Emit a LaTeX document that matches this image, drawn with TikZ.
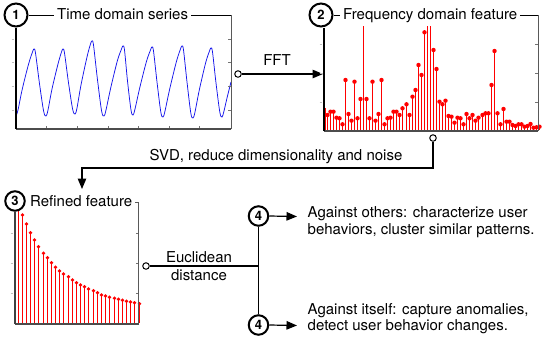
\documentclass[tikz,border=0pt]{standalone}
\usepackage{fontspec}
\setmainfont{TeX Gyre Heros}
\usetikzlibrary{arrows.meta}
\definecolor{stemredc}{RGB}{255,0,0}
\definecolor{dotredc}{RGB}{255,0,0}
\definecolor{curveblue}{RGB}{20,20,235}
\begin{document}
\begin{tikzpicture}[x=1pt,y=-1pt,
  every node/.style={font=\fontsize{15}{17}\selectfont, inner sep=0pt},
  numcirc/.style={circle, draw=black, line width=2pt, fill=white, minimum size=#1, inner sep=0pt, font=\fontsize{13}{13}\selectfont\bfseries},
  marker/.style={circle, draw=black, line width=1pt, fill=white, minimum size=6.5pt, inner sep=0pt},
  titlelbl/.style={fill=white, inner xsep=3pt, inner ysep=1pt, anchor=base west},
  titleline/.style={draw=black, line width=1pt},
  axisleft/.style={draw=black, line width=1.6pt},
  axisgrayleft/.style={draw=black!75, line width=1.6pt},
  axisbottom/.style={draw=black!70, line width=1.4pt},
  axisright/.style={draw=black!65, line width=1pt},
  tickmark/.style={draw=black!55, line width=0.8pt},
  fainttick/.style={draw=black!25, line width=0.8pt},
  conn/.style={draw=black, line width=1.2pt},
  arrowed/.style={-{Triangle[length=10.5pt,width=8.5pt]}},
  bluecurve/.style={draw=curveblue, line width=0.75pt},
  stemred/.style={draw=stemredc, line width=1pt}
]
\useasboundingbox (0,0) rectangle (545,338);

% ---------------- Panel 1 ----------------
\node[numcirc=23pt] (c1) at (16,15) {1};
\coordinate (p1tr) at (231,15);
\coordinate (p1br) at (231,129);
\coordinate (p1bl) at (16,129);
\begin{scope}
  \clip (16,10) rectangle (231,129);
  \draw[bluecurve] plot[smooth,tension=0.55] coordinates {
    (16,116) (18,110) (22.3,89) (28.6,64) (32.5,52) (34,49)
    (35.5,53) (39.4,83) (43.6,111) (46,116)
    (48,110) (52,89) (58,64) (61.5,52) (63,49)
    (64.5,53) (68.4,82) (72.6,109) (75,114)
    (77,108) (81,85) (87,57) (90.5,44) (92,41)
    (93.5,45) (97.4,79) (101.6,111) (104,116)
    (106,110) (110.7,88) (117.3,61) (121.5,49) (123,46)
    (124.5,50) (127.5,81) (131,110) (133,115)
    (135,109) (139.7,88) (146.3,62) (150.5,50) (152,47)
    (153.5,51) (157,82) (160.8,112) (163,117)
    (165,111) (169.7,89) (176.3,62) (180.5,49) (182,46)
    (183.5,50) (187,82) (190.8,113) (193,118)
    (195,112) (199.3,90) (205.6,63) (209.5,51) (211,48)
    (212.5,52) (216,83) (219.8,112) (222,117)
    (224,111) (227,98) (231,82)};
\end{scope}
\foreach \ty in {39,62,86,110}{
  \draw[tickmark] (231,\ty) -- (228,\ty);
  \draw[fainttick] (11.5,\ty) -- (13.5,\ty);
}
\foreach \tx in {46,77,108,138,169,199}{
  \draw[tickmark] (\tx,129) -- (\tx,125.5);
}
\draw[axisright] (p1tr) -- (p1br);
\draw[axisbottom] (p1bl) -- (p1br);
\draw[titleline] (c1.east) -- (p1tr);
\draw[axisleft] (c1.south) -- (p1bl);
\node[titlelbl] (t1) at (54,19) {Time domain series};

% ---------------- FFT connector ----------------
\node[marker] (m1) at (238,74) {};
\coordinate (a2) at (323,74);
\draw[conn,arrowed] (m1) -- (a2);
\node[anchor=base] (fft) at (277,65) {FFT};

% ---------------- Panel 2 ----------------
\def\fftlist{115,111.7,111.7,117.7,118.3,124.3,80,114,120.7,81.7,
118.3,99,26,99,118.3,81.7,120.7,114,80,124.3,
118.3,117.7,111.7,111.7,115,108.3,104.3,115,96.7,90,
65,75,32.3,26,26,50,69,101.7,104.3,100.7,
116,116.7,122.7,117.7,118.3,124.3,114,118.3,115,120.7,
117.7,115,113.3,113.3,85,51,113.3,124.3,109,121.7,
121.7,125,126,124.3,124.3,126.7,126,124,127.7,127.3,126.7}
\draw[stemred] (325.5,130) -- (325.5,108);
\foreach \yy [count=\i from 0] in \fftlist {
  \pgfmathsetmacro\xx{floor(327+3.04*\i)+0.5}
  \draw[stemred] (\xx,130) -- (\xx,\yy);
}
\foreach \yy [count=\i from 0] in \fftlist {
  \pgfmathsetmacro\xx{floor(327+3.04*\i)+0.5}
  \ifdim\yy pt>30pt
    \fill[dotredc] (\xx,\yy) circle[radius=2.2];
  \fi
}
\node[numcirc=23pt] (c2) at (321,15) {2};
\coordinate (p2tr) at (538,15);
\coordinate (p2br) at (538,131);
\coordinate (p2bl) at (324,131);
\foreach \ty in {44,73,102}{
  \draw[tickmark] (538,\ty) -- (535,\ty);
  \draw[fainttick] (319.5,\ty) -- (321.5,\ty);
}
\draw[axisright] (p2tr) -- (p2br);
\draw[axisbottom] (p2bl) -- (p2br);
\draw[titleline] (c2.east) -- (p2tr);
\draw[axisleft] (c2.south -| p2bl) -- (p2bl);
\node[titlelbl] (t2) at (340,19) {Frequency domain feature};

% ---------------- SVD connector ----------------
\node[marker] (m2) at (433,138) {};
\coordinate (s1) at (433,168);
\coordinate (s2) at (82,168);
\coordinate (s3) at (82,189);
\draw[conn,arrowed] (m2) -- (s1) -- (s2) -- (s3);
\node[anchor=base] (svd) at (276,160.7) {SVD, reduce dimensionality and noise};

% ---------------- Panel 3 ----------------
\def\reflist{207,215,224,232.7,240,246.7,253.3,257.7,262.7,267.3,
271,274,276.7,280,282.7,285,286.7,289,290.7,292.7,
295,296,297.3,298.3,299.3,300.3,301.3,302,302.7,303.7}
\foreach \yy [count=\i from 0] in \reflist {
  \pgfmathsetmacro\xx{floor(18.1+4.17*\i)+0.5}
  \draw[stemred] (\xx,323) -- (\xx,\yy);
}
\foreach \yy [count=\i from 0] in \reflist {
  \pgfmathsetmacro\xx{floor(18.1+4.17*\i)+0.5}
  \fill[dotredc] (\xx,\yy) circle[radius=1.9];
}
\node[numcirc=19.5pt] (c3) at (15,201) {3};
\coordinate (p3tl) at (135,202);
\coordinate (p3tr) at (138.5,202);
\coordinate (p3br) at (138.5,324);
\coordinate (p3bl) at (15,324);
\foreach \ty in {233,263,293}{
  \draw[tickmark] (138.5,\ty) -- (135.5,\ty);
  \draw[fainttick] (10.5,\ty) -- (12.5,\ty);
}
\draw[axisright] (p3tl) -- (p3tr) -- (p3br);
\draw[axisbottom] (p3bl) -- (p3br);
\draw[axisgrayleft] (c3.south) -- (p3bl);
\node[titlelbl] (t3) at (27,206.6) {Refined feature};

% ---------------- Euclidean distance ----------------
\node[marker] (m3) at (146,266) {};
\node[numcirc=19.5pt] (c4a) at (258.5,216) {4};
\node[numcirc=19.5pt] (c4b) at (258.5,325) {4};
\coordinate (jn) at (258.5,266);
\draw[conn] (m3) -- (jn);
\draw[conn] (c4a) -- (c4b);
\node[anchor=base] (eu1) at (199,262.6) {Euclidean};
\node[anchor=base] (eu2) at (199,280) {distance};

\coordinate (e1) at (297,216.5);
\coordinate (e2) at (297,325.5);
\draw[conn,arrowed] (c4a.east) -- (e1);
\draw[conn,arrowed] (c4b.east) -- (e2);

\node[anchor=base west] (r1a) at (307.5,217.3) {Against others: characterize user};
\node[anchor=base west] (r1b) at (307.5,234) {behaviors, cluster similar patterns.};
\node[anchor=base west] (r2a) at (307.5,314) {Against itself: capture anomalies,};
\node[anchor=base west] (r2b) at (307.5,330.7) {detect user behavior changes.};
\end{tikzpicture}
\end{document}
